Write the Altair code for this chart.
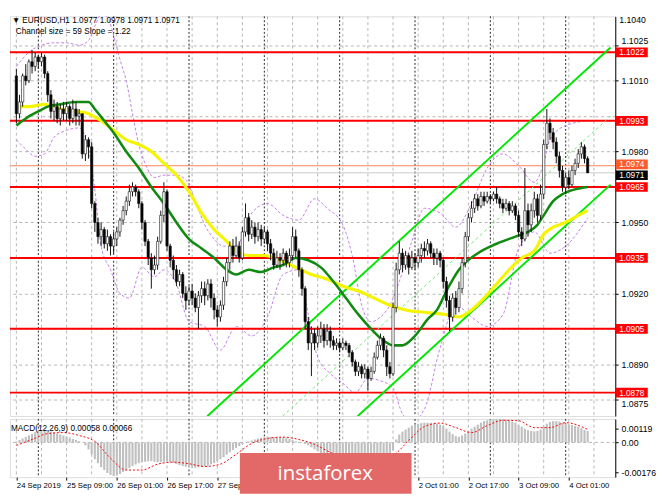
import altair as alt
import pandas as pd

# ---------------- data ----------------
FIRST_OPEN = 1.1012
CLOSE = [1.0996, 1.1001, 1.1012, 1.1010, 1.1018, 1.1016, 1.1020, 1.1018, 1.1020, 1.1013,
         1.1004, 1.0997, 1.0999, 1.0994, 1.0998, 1.0996, 1.0999, 1.0994, 1.0998, 1.0995,
         1.0996, 1.0979, 1.0985, 1.0982, 1.0958, 1.0950, 1.0944, 1.0947, 1.0941, 1.0944,
         1.0940, 1.0943, 1.0946, 1.0951, 1.0955, 1.0959, 1.0963, 1.0965, 1.0963, 1.0958,
         1.0950, 1.0942, 1.0935, 1.0930, 1.0932, 1.0942, 1.0953, 1.0963, 1.0940, 1.0934,
         1.0930, 1.0925, 1.0928, 1.0920, 1.0917, 1.0921, 1.0918, 1.0914, 1.0919, 1.0922,
         1.0919, 1.0924, 1.0918, 1.0913, 1.0910, 1.0915, 1.0925, 1.0933, 1.0940, 1.0936,
         1.0940, 1.0935, 1.0946, 1.0952, 1.0945, 1.0948, 1.0944, 1.0947, 1.0943, 1.0946,
         1.0941, 1.0937, 1.0932, 1.0935, 1.0934, 1.0937, 1.0933, 1.0936, 1.0944, 1.0938,
         1.0930, 1.0922, 1.0908, 1.0899, 1.0903, 1.0899, 1.0902, 1.0905, 1.0900, 1.0904,
         1.0900, 1.0898, 1.0899, 1.0897, 1.0899, 1.0898, 1.0895, 1.0891, 1.0887, 1.0889,
         1.0886, 1.0888, 1.0884, 1.0887, 1.0893, 1.0898, 1.0901, 1.0896, 1.0889, 1.0886,
         1.0914, 1.0930, 1.0937, 1.0932, 1.0936, 1.0931, 1.0935, 1.0933, 1.0936, 1.0939,
         1.0938, 1.0941, 1.0937, 1.0935, 1.0937, 1.0934, 1.0925, 1.0917, 1.0910, 1.0918,
         1.0914, 1.0922, 1.0933, 1.0944, 1.0952, 1.0956, 1.0960, 1.0957, 1.0961, 1.0959,
         1.0961, 1.0960, 1.0962, 1.0960, 1.0958, 1.0956, 1.0958, 1.0955, 1.0957, 1.0953,
         1.0946, 1.0943, 1.0955, 1.0949, 1.0955, 1.0960, 1.0953, 1.0962, 1.0983, 1.0992,
         1.0988, 1.0984, 1.0978, 1.0972, 1.0965, 1.0969, 1.0966, 1.0972, 1.0975, 1.0979,
         1.0982, 1.0977, 1.0971]
HIGH = [1.1015, 1.1004, 1.1013, 1.1017, 1.1019, 1.1023, 1.1022, 1.1021, 1.1022, 1.1021,
        1.1014, 1.1006, 1.1002, 1.1001, 1.1000, 1.1001, 1.1001, 1.1000, 1.1002, 1.1001,
        1.0998, 1.0996, 1.0987, 1.0986, 1.0984, 1.0959, 1.0952, 1.0950, 1.0948, 1.0947,
        1.0945, 1.0946, 1.0948, 1.0952, 1.0957, 1.0961, 1.0966, 1.0967, 1.0966, 1.0964,
        1.0959, 1.0951, 1.0943, 1.0937, 1.0936, 1.0944, 1.0955, 1.0967, 1.0964, 1.0941,
        1.0936, 1.0932, 1.0930, 1.0929, 1.0923, 1.0923, 1.0924, 1.0920, 1.0921, 1.0925,
        1.0925, 1.0926, 1.0926, 1.0920, 1.0915, 1.0917, 1.0927, 1.0935, 1.0942, 1.0943,
        1.0944, 1.0942, 1.0948, 1.0958, 1.0954, 1.0951, 1.0950, 1.0950, 1.0949, 1.0948,
        1.0947, 1.0943, 1.0939, 1.0938, 1.0937, 1.0939, 1.0938, 1.0939, 1.0948, 1.0947,
        1.0939, 1.0931, 1.0923, 1.0910, 1.0906, 1.0905, 1.0906, 1.0908, 1.0907, 1.0907,
        1.0906, 1.0902, 1.0901, 1.0900, 1.0901, 1.0900, 1.0899, 1.0896, 1.0892, 1.0891,
        1.0890, 1.0890, 1.0889, 1.0889, 1.0895, 1.0900, 1.0903, 1.0902, 1.0898, 1.0891,
        1.0916, 1.0933, 1.0942, 1.0939, 1.0938, 1.0937, 1.0938, 1.0937, 1.0939, 1.0941,
        1.0942, 1.0943, 1.0942, 1.0939, 1.0939, 1.0938, 1.0935, 1.0927, 1.0919, 1.0920,
        1.0921, 1.0925, 1.0935, 1.0946, 1.0954, 1.0959, 1.0962, 1.0962, 1.0963, 1.0963,
        1.0963, 1.0962, 1.0963, 1.0965, 1.0961, 1.0960, 1.0960, 1.0959, 1.0959, 1.0958,
        1.0955, 1.0948, 1.0973, 1.0958, 1.0958, 1.0963, 1.0962, 1.0966, 1.0985, 1.0998,
        1.0994, 1.0990, 1.0986, 1.0980, 1.0974, 1.0971, 1.0972, 1.0974, 1.0977, 1.0981,
        1.0984, 1.0983, 1.0978]
LOW = [1.0992, 1.0994, 1.0999, 1.1008, 1.1009, 1.1013, 1.1014, 1.1015, 1.1016, 1.1011,
       1.1001, 1.0994, 1.0993, 1.0992, 1.0991, 1.0993, 1.0993, 1.0991, 1.0992, 1.0991,
       1.0991, 1.0977, 1.0976, 1.0977, 1.0956, 1.0946, 1.0941, 1.0940, 1.0939, 1.0938,
       1.0936, 1.0937, 1.0940, 1.0944, 1.0949, 1.0953, 1.0957, 1.0961, 1.0961, 1.0956,
       1.0947, 1.0940, 1.0932, 1.0922, 1.0928, 1.0930, 1.0941, 1.0950, 1.0938, 1.0931,
       1.0926, 1.0923, 1.0923, 1.0918, 1.0913, 1.0915, 1.0915, 1.0912, 1.0905, 1.0916,
       1.0915, 1.0917, 1.0914, 1.0909, 1.0906, 1.0908, 1.0913, 1.0923, 1.0930, 1.0933,
       1.0935, 1.0933, 1.0934, 1.0944, 1.0942, 1.0943, 1.0941, 1.0942, 1.0940, 1.0941,
       1.0938, 1.0934, 1.0930, 1.0931, 1.0930, 1.0932, 1.0931, 1.0931, 1.0934, 1.0935,
       1.0927, 1.0919, 1.0905, 1.0896, 1.0885, 1.0896, 1.0897, 1.0899, 1.0897, 1.0898,
       1.0897, 1.0896, 1.0896, 1.0895, 1.0896, 1.0896, 1.0893, 1.0889, 1.0885, 1.0885,
       1.0884, 1.0884, 1.0879, 1.0883, 1.0886, 1.0892, 1.0896, 1.0893, 1.0885, 1.0884,
       1.0885, 1.0912, 1.0928, 1.0929, 1.0930, 1.0928, 1.0930, 1.0930, 1.0931, 1.0933,
       1.0935, 1.0936, 1.0935, 1.0932, 1.0932, 1.0931, 1.0922, 1.0914, 1.0904, 1.0908,
       1.0911, 1.0912, 1.0920, 1.0931, 1.0942, 1.0950, 1.0954, 1.0955, 1.0956, 1.0957,
       1.0958, 1.0958, 1.0959, 1.0958, 1.0956, 1.0954, 1.0955, 1.0953, 1.0954, 1.0951,
       1.0944, 1.0940, 1.0942, 1.0944, 1.0946, 1.0952, 1.0950, 1.0951, 1.0960, 1.0981,
       1.0985, 1.0981, 1.0975, 1.0969, 1.0963, 1.0962, 1.0964, 1.0965, 1.0970, 1.0973,
       1.0977, 1.0975, 1.0971]

# moving averages, sampled along their length (bar index, price)
GREEN_I = [0, 3, 7, 10, 14, 19, 23, 25, 28, 31, 35, 39, 43, 47, 51, 55, 59, 63, 67, 70,
           74, 78, 82, 85, 89, 93, 97, 101, 105, 109, 113, 117, 120, 123, 127, 131, 134, 137,
           141, 147, 153, 159, 163, 166, 168, 171, 174, 178, 182]
GREEN_P = [1.0991, 1.0994, 1.0997, 1.0999, 1.1000, 1.1001, 1.1001, 1.0998, 1.0993, 1.0988,
           1.0980, 1.0973, 1.0965, 1.0958, 1.0950, 1.0943, 1.0939, 1.0935, 1.0930, 1.0928,
           1.0930, 1.0929, 1.0931, 1.0932, 1.0935, 1.0934, 1.0931, 1.0925, 1.0918, 1.0911,
           1.0905, 1.0900, 1.0898, 1.0898, 1.0902, 1.0909, 1.0913, 1.0921, 1.0930, 1.0937,
           1.0941, 1.0944, 1.0946, 1.0949, 1.0953, 1.0959, 1.0962, 1.0964, 1.0965]
YELLOW_I = [0, 4, 9, 14, 19, 23, 27, 31, 35, 39, 43, 47, 51, 55, 59, 63, 67, 70, 74, 79,
            84, 89, 94, 99, 104, 109, 114, 119, 124, 130, 137, 141, 145, 149, 153, 157, 161,
            165, 168, 171, 175, 179, 182]
YELLOW_P = [1.0999, 1.0999, 1.1000, 1.0998, 1.0997, 1.0996, 1.0993, 1.0989, 1.0985, 1.0983,
            1.0980, 1.0975, 1.0970, 1.0963, 1.0954, 1.0947, 1.0942, 1.0938, 1.0936, 1.0936,
            1.0934, 1.0931, 1.0928, 1.0926, 1.0923, 1.0921, 1.0918, 1.0915, 1.0913, 1.0912,
            1.0911, 1.0910, 1.0913, 1.0918, 1.0924, 1.0930, 1.0935, 1.0938, 1.0945, 1.0948,
            1.0950, 1.0953, 1.0955]

# Bollinger-type bands (purple dashed), sampled (bar index, price)
BB_UP_I = [0, 4, 8, 12, 16, 20, 23, 25, 27, 29, 31, 33, 35, 37, 39, 41, 44, 47, 51, 54,
           57, 60, 63, 66, 70, 75, 80, 85, 90, 95, 99, 104, 107, 110, 113, 116, 119, 122,
           126, 130, 135, 140, 145, 150, 155, 160, 165, 168, 170, 175, 182]
BB_UP_P = [1.1016, 1.1022, 1.1025, 1.1026, 1.1026, 1.1025, 1.1027, 1.1033, 1.1038, 1.1037,
           1.1029, 1.1019, 1.1010, 1.0996, 1.0983, 1.0975, 1.0969, 1.0970, 1.0970, 1.0968,
           1.0959, 1.0949, 1.0943, 1.0940, 1.0940, 1.0954, 1.0958, 1.0953, 1.0951, 1.0960,
           1.0956, 1.0949, 1.0936, 1.0915, 1.0908, 1.0910, 1.0915, 1.0925, 1.0942, 1.0956,
           1.0954, 1.0948, 1.0958, 1.0973, 1.0979, 1.0974, 1.0967, 1.0975, 1.0985, 1.0991,
           1.0993]
BB_LO_I = [0, 3, 6, 9, 12, 16, 20, 23, 25, 27, 30, 33, 36, 40, 44, 47, 51, 55, 60, 65,
           70, 75, 80, 85, 90, 93, 96, 100, 104, 108, 112, 116, 120, 123, 126, 130, 135,
           140, 145, 150, 155, 160, 165, 170, 175, 182]
BB_LO_P = [1.0985, 1.0981, 1.0978, 1.0979, 1.0986, 1.0989, 1.0990, 1.0981, 1.0964, 1.0940,
           1.0930, 1.0920, 1.0918, 1.0931, 1.0927, 1.0930, 1.0924, 1.0908, 1.0906, 1.0896,
           1.0906, 1.0902, 1.0910, 1.0928, 1.0930, 1.0911, 1.0893, 1.0886, 1.0882, 1.0878,
           1.0884, 1.0883, 1.0880, 1.0869, 1.0866, 1.0871, 1.0897, 1.0915, 1.0910, 1.0906,
           1.0911, 1.0939, 1.0946, 1.0937, 1.0940, 1.0952]

# linear regression channel: (bar, price) at both ends
CH_UP = [(60.8, 1.0868), (189.3, 1.1024)]
CH_MID = [(84.8, 1.0868), (189.3, 1.0995)]
CH_LOW = [(108.7, 1.0868), (189.3, 1.0966)]

LEVELS = [1.1022, 1.0993, 1.0965, 1.0935, 1.0905, 1.0878]
ASK, BID = 1.0974, 1.0971
PRICE_TICKS = [1.1025, 1.1010, 1.0995, 1.0980, 1.0965, 1.0950, 1.0935,
               1.0920, 1.0905, 1.0890, 1.0875]
TOP_TICK = "1.1040"

# MACD (values in 1e-5)
MACD = [5, 12, 20, 28, 36, 44, 52, 58, 62, 64, 60, 55, 50, 45, 40, 35, 30, 25, 18, 12,
        6, 0, -15, -35, -60, -85, -105, -125, -140, -155, -165, -170, -168, -160, -150,
        -140, -130, -120, -112, -105, -100, -98, -96, -95, -98, -100, -100, -98, -96, -100,
        -104, -110, -115, -120, -124, -126, -128, -128, -126, -124, -120, -118, -112, -105,
        -95, -85, -75, -62, -50, -38, -28, -18, -8, 0, 5, 10, 15, 20, 24, 26, 27, 28, 28,
        27, 26, 25, 22, 18, 12, 6, 2, -2, -8, -15, -25, -35, -45, -55, -62, -68, -74, -78,
        -80, -82, -83, -84, -85, -86, -86, -86, -85, -84, -83, -82, -80, -78, -75, -70,
        -65, -58, -40, 15, 40, 55, 65, 75, 85, 90, 95, 98, 100, 100, 99, 97, 95, 90, 82,
        70, 55, 42, 32, 28, 35, 45, 58, 70, 80, 90, 100, 108, 112, 116, 118, 119, 119, 118,
        116, 112, 106, 100, 90, 80, 70, 62, 58, 56, 58, 65, 80, 95, 104, 108, 108, 105,
        100, 96, 92, 88, 84, 80, 72, 64, 58]
SIG_I = [0, 5, 10, 15, 20, 25, 30, 35, 40, 45, 50, 55, 60, 65, 70, 75, 80, 85, 90, 95,
         100, 105, 110, 115, 120, 125, 130, 135, 140, 145, 150, 155, 160, 165, 170, 175, 182]
SIG_V = [-15, 15, 45, 50, 35, 5, -80, -140, -140, -110, -100, -108, -122, -110, -60, -5,
         20, 27, 15, -10, -50, -78, -85, -82, -65, 10, 80, 98, 75, 50, 85, 112, 110, 75, 75,
         100, 66]

X_LABEL_BARS = [0, 16, 32, 48, 64, 128, 144, 160, 176]
X_LABELS = ["24 Sep 2019", "25 Sep 09:00", "26 Sep 01:00", "26 Sep 17:00", "27 Sep 09:00",
            "2 Oct 01:00", "2 Oct 17:00", "3 Oct 09:00", "4 Oct 01:00"]
DAY_STARTS = [7, 31, 55, 79, 103, 127, 151, 175]
GRID_BARS = list(range(0, 190, 8))

# ---------------- frames ----------------
n = len(CLOSE)
opens = [FIRST_OPEN] + CLOSE[:-1]
candles = pd.DataFrame({
    "i": list(range(n)), "o": opens, "c": CLOSE, "h": HIGH, "l": LOW,
})
candles["lo"] = candles[["o", "c"]].min(axis=1)
candles["hi"] = candles[["o", "c"]].max(axis=1)
candles["dir"] = ["up" if c >= o else "down" for o, c in zip(opens, CLOSE)]

W, H, HM = 624, 412, 60
FONT = "Liberation Sans"
XS = alt.Scale(domain=[-0.5, 189.26], nice=False, zero=False)
YS = alt.Scale(domain=[1.08681, 1.10372], nice=False, zero=False)
MS = alt.Scale(domain=[-176, 119], nice=False, zero=False)

hidden = " || ".join("abs(datum.value - %s) < 0.00005" % v
                     for v in [1.0995, 1.0965, 1.0935, 1.0905])
AXP = alt.Axis(orient="right", values=PRICE_TICKS, grid=True,
               labelExpr="(%s) ? '' : format(datum.value, '.4f')" % hidden,
               labelBaseline={"expr": "datum.value > 1.1020 ? 'bottom' : "
                                      "(datum.value < 1.0877 ? 'top' : 'middle')"},
               gridColor="#b4b4b4", gridDash=[3, 3], tickSize=3, tickColor="black",
               domainColor="black", labelFontSize=9, labelColor="black", labelFont=FONT,
               labelPadding=3, title=None, labelOverlap=False)


def xm(field="i"):
    return alt.X(field, type="quantitative", scale=XS, axis=None)


def yp(field):
    return alt.Y(field, type="quantitative", scale=YS, axis=AXP)


grid_df = pd.DataFrame({"i": GRID_BARS})
day_df = pd.DataFrame({"i": DAY_STARTS})

vgrid = alt.Chart(grid_df).mark_rule(color="#b4b4b4", strokeDash=[3, 3]).encode(x=xm())
daysep = alt.Chart(day_df).mark_rule(color="#222222", strokeDash=[2, 2]).encode(x=xm())

levels = alt.Chart(pd.DataFrame({"p": LEVELS})).mark_rule(
    color="#ff0000", strokeWidth=2).encode(y=yp("p"))
askline = alt.Chart(pd.DataFrame({"p": [ASK]})).mark_rule(
    color="#ff8050", strokeWidth=1).encode(y=yp("p"))
bidline = alt.Chart(pd.DataFrame({"p": [BID]})).mark_rule(
    color="#c8c8c8", strokeWidth=1).encode(y=yp("p"))

bb_df = pd.concat([
    pd.DataFrame({"i": BB_UP_I, "p": BB_UP_P, "k": "up"}),
    pd.DataFrame({"i": BB_LO_I, "p": BB_LO_P, "k": "low"}),
])
bands = alt.Chart(bb_df).mark_line(color="#c37ee6", strokeWidth=1, strokeDash=[3, 2],
                                   interpolate="monotone", clip=True).encode(
    x=xm(), y=yp("p"), detail="k:N")


def seg(points, name):
    return pd.DataFrame({"i": [p[0] for p in points], "p": [p[1] for p in points],
                         "k": name})


ch_df = pd.concat([seg(CH_UP, "up"), seg(CH_LOW, "low")])
channel = alt.Chart(ch_df).mark_line(color="#00e600", strokeWidth=2, clip=True).encode(
    x=xm(), y=yp("p"), detail="k:N")
chmid = alt.Chart(seg(CH_MID, "mid")).mark_line(
    color="#66ee66", strokeWidth=1, strokeDash=[3, 3], clip=True).encode(x=xm(), y=yp("p"))

yellow = alt.Chart(pd.DataFrame({"i": YELLOW_I, "p": YELLOW_P})).mark_line(
    color="#f5f500", strokeWidth=3.2, interpolate="monotone").encode(x=xm(), y=yp("p"))
green = alt.Chart(pd.DataFrame({"i": GREEN_I, "p": GREEN_P})).mark_line(
    color="#108a10", strokeWidth=2.6, interpolate="monotone").encode(x=xm(), y=yp("p"))

wicks = alt.Chart(candles).mark_rule(color="#111111", strokeWidth=1).encode(
    x=xm(), y=yp("l"), y2="h")
bodies = alt.Chart(candles).mark_bar(size=2.4, stroke="#111111", strokeWidth=0.6).encode(
    x=xm(), y=yp("lo"), y2="hi",
    color=alt.Color("dir:N", scale=alt.Scale(domain=["up", "down"],
                                             range=["#ffffff", "#000000"]), legend=None))


def tag_layers(values, fill, dy):
    df = pd.DataFrame({"p": values, "t": ["%.4f" % v for v in values]})
    box = alt.Chart(df).mark_tick(orient="horizontal", thickness=10, size=33, opacity=1,
                                  color=fill, yOffset=dy).encode(
        y=yp("p"), x=alt.value(641))
    txt = alt.Chart(df).mark_text(align="left", baseline="middle", fontSize=8.5,
                                  font=FONT, color="white", dy=dy).encode(
        y=yp("p"), x=alt.value(628), text="t:N")
    return [box, txt]


tag_marks = (tag_layers(LEVELS, "#ff0000", 0) + tag_layers([ASK], "#ff5a2a", -1.5)
             + tag_layers([BID], "#000000", 2.5))
toptick = alt.Chart(pd.DataFrame({"t": [TOP_TICK]})).mark_text(
    align="left", baseline="top", fontSize=9, font=FONT, color="black").encode(
    x=alt.value(628), y=alt.value(0), text="t:N")

head = alt.Chart(pd.DataFrame({
    "t": ["\u25BC EURUSD,H1  1.0977 1.0978 1.0971 1.0971", "Channel size = 59 Slope = 1.22"],
    "x": [2, 6], "y": [0, 11]})).mark_text(
    align="left", baseline="top", fontSize=8.5, font=FONT, color="black").encode(
    x=alt.X("x:Q", scale=alt.Scale(domain=[0, W], range=[0, W]), axis=None),
    y=alt.Y("y:Q", scale=alt.Scale(domain=[0, H], range=[0, H]), axis=None),
    text="t:N")

main = alt.layer(vgrid, daysep, bands, levels, askline, bidline, chmid, channel, yellow,
                 green, wicks, bodies, *tag_marks, toptick).properties(width=W, height=H)
main = alt.layer(main, head).resolve_scale(x="independent", y="independent")

# ---------------- MACD panel ----------------
label_expr = " : ".join("datum.value == %d ? '%s'" % (b, s)
                        for b, s in zip(X_LABEL_BARS, X_LABELS)) + " : ''"
AXX = alt.Axis(orient="bottom", values=X_LABEL_BARS, labelExpr=label_expr,
               labelAlign="left", labelPadding=2, tickSize=3, tickColor="black",
               domain=False, grid=False, labelFontSize=8, labelColor="black",
               labelFont=FONT, title=None, labelOverlap=False, labelBound=False,
               labelFlush=False)
AXM = alt.Axis(orient="right", values=[69, 0, -151], grid=False, tickSize=3,
               tickColor="black", domainColor="black", labelOverlap=False,
               labelExpr="datum.value > 30 ? '0.00119' : (datum.value < -30 ? '-0.00176' : '0.00')",
               labelFontSize=9, labelColor="black", labelFont=FONT, labelPadding=3,
               title=None)


def xb(field="i"):
    return alt.X(field, type="quantitative", scale=XS, axis=AXX)


def ym(field):
    return alt.Y(field, type="quantitative", scale=MS, axis=AXM)


macd_df = pd.DataFrame({"i": list(range(n)), "v": MACD, "z": 0})
sig_df = pd.DataFrame({"i": SIG_I, "v": SIG_V})

mgrid = alt.Chart(grid_df).mark_rule(color="#b4b4b4", strokeDash=[3, 3]).encode(x=xb())
mday = alt.Chart(day_df).mark_rule(color="#222222", strokeDash=[2, 2]).encode(x=xb())
zero = alt.Chart(pd.DataFrame({"v": [0]})).mark_rule(
    color="#b4b4b4", strokeDash=[3, 3]).encode(y=ym("v"))
hist = alt.Chart(macd_df).mark_bar(size=2.2, color="#c0c0c0").encode(
    x=xb(), y=ym("v"), y2="z")
sig = alt.Chart(sig_df).mark_line(color="#ff0000", strokeWidth=1, strokeDash=[2, 2],
                                  interpolate="monotone").encode(x=xb(), y=ym("v"))
mtext = alt.Chart(pd.DataFrame({"t": ["MACD(12,26,9) 0.00058 0.00066"]})).mark_text(
    align="left", baseline="middle", fontSize=8.5, font=FONT, color="black").encode(
    x=alt.value(1), y=alt.value(9), text="t:N")
wm_box = alt.Chart(pd.DataFrame({"a": [0]})).mark_rect(color="#e36969").encode(
    x=alt.value(237), x2=alt.value(414), y=alt.value(35), y2=alt.value(77))
wm_text = alt.Chart(pd.DataFrame({"t": ["instaforex"]})).mark_text(
    align="center", baseline="middle", fontSize=21, font="Open Sans",
    color="white").encode(x=alt.value(325), y=alt.value(57), text="t:N")

macd = alt.layer(mgrid, mday, zero, hist, sig, mtext, wm_box, wm_text).properties(
    width=W, height=HM)

chart = alt.vconcat(main, macd, spacing=0).properties(padding=0).configure_view(
    stroke="black", strokeWidth=1).configure(background="white")

chart.save("out.html", embed_options={"renderer": "svg", "actions": False})
